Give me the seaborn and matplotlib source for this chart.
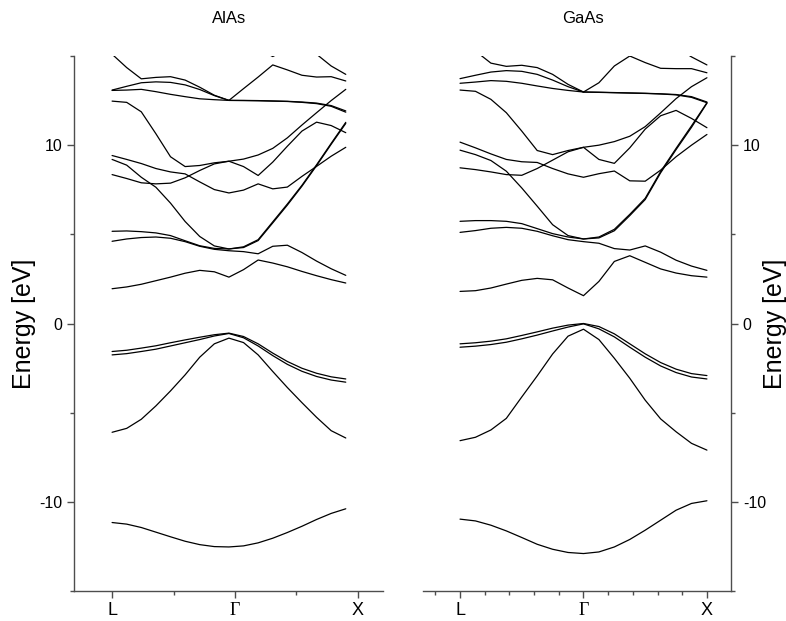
import numpy as np
import pandas as pd
import matplotlib
matplotlib.use("Agg")
import matplotlib.pyplot as plt
from matplotlib.ticker import MultipleLocator
import seaborn as sns

# sample points along the path L -> Gamma -> X (L=0, Gamma=1, X=2)
k_path = [0.0, 0.125, 0.25, 0.375, 0.5, 0.625, 0.75, 0.875, 1.0,
          1.125, 1.25, 1.375, 1.5, 1.625, 1.75, 1.875, 2.0]
# the AlAs run used a slightly shorter path
alas_k_scale = 0.951

# AlAs bands (eV)
alas_s = [-11.16, -11.25, -11.44, -11.70, -11.96, -12.21, -12.40, -12.51, -12.53,
          -12.47, -12.30, -12.04, -11.72, -11.37, -10.99, -10.65, -10.39]
alas_v1 = [-6.10, -5.88, -5.37, -4.62, -3.78, -2.88, -1.89, -1.14, -0.82,
           -1.07, -1.76, -2.69, -3.59, -4.44, -5.26, -6.01, -6.42]
alas_v2 = [-1.76, -1.69, -1.57, -1.44, -1.26, -1.08, -0.90, -0.70, -0.56,
           -0.80, -1.26, -1.80, -2.29, -2.68, -2.97, -3.17, -3.29]
alas_v3 = [-1.57, -1.50, -1.38, -1.25, -1.08, -0.92, -0.77, -0.63, -0.54,
           -0.73, -1.14, -1.66, -2.13, -2.51, -2.79, -2.99, -3.11]
alas_c1 = [1.95, 2.05, 2.20, 2.40, 2.60, 2.82, 2.98, 2.90, 2.60,
           3.02, 3.56, 3.39, 3.18, 2.92, 2.68, 2.46, 2.27]
alas_c2 = [4.61, 4.74, 4.82, 4.85, 4.78, 4.59, 4.33, 4.16, 4.08,
           4.03, 3.91, 4.33, 4.39, 3.98, 3.50, 3.07, 2.70]
alas_c3 = [5.17, 5.19, 5.15, 5.08, 4.93, 4.64, 4.36, 4.21, 4.18,
           4.26, 4.65, 5.64, 6.64, 7.70, 8.85, 10.05, 11.22]
alas_c4 = [9.20, 8.88, 8.20, 7.64, 6.75, 5.72, 4.88, 4.35, 4.18,
           4.30, 4.70, 5.70, 6.70, 7.75, 8.90, 10.10, 11.28]
alas_c5 = [9.42, 9.20, 8.97, 8.69, 8.50, 8.39, 7.94, 7.51, 7.32,
           7.48, 7.83, 7.55, 7.65, 8.25, 8.81, 9.38, 9.88]
alas_c6 = [8.35, 8.13, 7.89, 7.83, 7.87, 8.17, 8.58, 8.95, 9.10,
           9.22, 9.45, 9.82, 10.41, 11.13, 11.82, 12.50, 13.13]
alas_c7 = [12.47, 12.40, 11.87, 10.64, 9.35, 8.80, 8.86, 9.01, 9.10,
           8.80, 8.30, 9.05, 9.94, 10.79, 11.29, 11.10, 10.70]
alas_c8 = [13.07, 13.09, 13.13, 13.00, 12.85, 12.72, 12.60, 12.55, 12.51,
           12.50, 12.49, 12.47, 12.45, 12.40, 12.33, 12.18, 11.85]
alas_c9 = [13.09, 13.30, 13.50, 13.55, 13.52, 13.38, 13.12, 12.78, 12.51,
           12.51, 12.50, 12.48, 12.46, 12.42, 12.36, 12.22, 11.92]
alas_c10 = [15.10, 14.35, 13.72, 13.80, 13.84, 13.65, 13.25, 12.80, 12.51,
            13.17, 13.82, 14.50, 14.22, 13.92, 13.82, 13.84, 13.60]
alas_c11 = [16.0, 16.0, 16.0, 16.0, 16.0, 16.0, 16.0, 16.0, 16.0,
            16.0, 16.0, 16.0, 16.0, 15.80, 15.10, 14.44, 13.97]
alas_c12 = [16.0, 16.0, 16.0, 16.0, 16.0, 16.0, 16.0, 16.0, 16.0,
            16.0, 15.40, 14.97, 15.40, 16.0, 16.0, 16.0, 16.0]

# GaAs bands (eV)
gaas_s = [-10.97, -11.07, -11.31, -11.63, -12.00, -12.38, -12.66, -12.84, -12.90,
          -12.81, -12.53, -12.11, -11.59, -11.03, -10.47, -10.09, -9.94]
gaas_v1 = [-6.57, -6.38, -5.97, -5.32, -4.12, -2.94, -1.71, -0.71, -0.32,
           -0.90, -1.95, -3.07, -4.30, -5.35, -6.07, -6.72, -7.10]
gaas_v2 = [-1.33, -1.27, -1.18, -1.05, -0.86, -0.65, -0.42, -0.20, -0.02,
           -0.30, -0.75, -1.33, -1.89, -2.38, -2.75, -3.00, -3.11]
gaas_v3 = [-1.14, -1.08, -0.99, -0.86, -0.67, -0.47, -0.26, -0.09, 0.00,
           -0.17, -0.58, -1.14, -1.70, -2.19, -2.56, -2.81, -2.92]
gaas_c1 = [1.80, 1.84, 1.99, 2.21, 2.42, 2.53, 2.45, 1.99, 1.56,
           2.36, 3.48, 3.80, 3.43, 3.06, 2.83, 2.68, 2.60]
gaas_c2 = [5.11, 5.21, 5.34, 5.39, 5.34, 5.17, 4.92, 4.70, 4.59,
           4.50, 4.20, 4.12, 4.35, 4.00, 3.55, 3.22, 2.98]
gaas_c3 = [5.73, 5.77, 5.77, 5.73, 5.60, 5.32, 5.04, 4.85, 4.74,
           4.80, 5.20, 6.05, 6.95, 8.45, 9.75, 11.00, 12.35]
gaas_c4 = [9.72, 9.47, 9.14, 8.54, 7.60, 6.58, 5.54, 4.93, 4.74,
           4.85, 5.28, 6.12, 7.02, 8.52, 9.82, 11.08, 12.38]
gaas_c5 = [10.17, 9.85, 9.51, 9.20, 9.07, 9.03, 8.69, 8.39, 8.20,
           8.40, 8.55, 8.00, 7.98, 8.60, 9.35, 10.00, 10.60]
gaas_c6 = [8.73, 8.63, 8.50, 8.35, 8.31, 8.69, 9.16, 9.63, 9.88,
           10.00, 10.20, 10.50, 11.04, 11.81, 12.61, 13.28, 13.78]
gaas_c7 = [13.09, 13.02, 12.57, 11.82, 10.79, 9.70, 9.47, 9.70, 9.88,
           9.20, 8.98, 9.85, 10.90, 11.65, 11.95, 11.50, 10.98]
gaas_c8 = [13.47, 13.54, 13.62, 13.58, 13.47, 13.32, 13.18, 13.07, 12.98,
           12.96, 12.94, 12.92, 12.90, 12.87, 12.82, 12.68, 12.38]
gaas_c9 = [13.73, 13.92, 14.10, 14.18, 14.14, 13.97, 13.65, 13.28, 12.98,
           12.97, 12.95, 12.93, 12.91, 12.88, 12.84, 12.72, 12.42]
gaas_c10 = [15.70, 15.28, 14.60, 14.42, 14.48, 14.35, 13.97, 13.41, 12.98,
            13.50, 14.44, 15.00, 14.63, 14.31, 14.29, 14.29, 14.06]
gaas_c11 = [16.0, 16.0, 16.0, 16.0, 16.0, 16.0, 16.0, 16.0, 16.0,
            16.0, 16.0, 16.0, 16.0, 16.0, 15.50, 14.95, 14.50]

alas_bands = [alas_s, alas_v1, alas_v2, alas_v3, alas_c1, alas_c2, alas_c3, alas_c4,
              alas_c5, alas_c6, alas_c7, alas_c8, alas_c9, alas_c10, alas_c11, alas_c12]
gaas_bands = [gaas_s, gaas_v1, gaas_v2, gaas_v3, gaas_c1, gaas_c2, gaas_c3, gaas_c4,
              gaas_c5, gaas_c6, gaas_c7, gaas_c8, gaas_c9, gaas_c10, gaas_c11]


def band_frame(bands, k):
    parts = []
    for i, e in enumerate(bands):
        parts.append(pd.DataFrame({"k": k, "E": e, "band": i}))
    return pd.concat(parts, ignore_index=True)


sns.set_style("ticks")
plt.rcParams["font.family"] = ["Liberation Sans", "DejaVu Sans"]
plt.rcParams["axes.unicode_minus"] = False
plt.rcParams["text.color"] = "black"

W, H = 786, 621
fig = plt.figure(figsize=(W / 100, H / 100), dpi=100)
ax1 = fig.add_axes([74 / W, 1 - 591 / H, 309 / W, 535 / H])
ax2 = fig.add_axes([423 / W, 1 - 591 / H, 308 / W, 535 / H])

k_alas = [k * alas_k_scale for k in k_path]
panels = [
    (ax1, band_frame(alas_bands, k_alas), "AlAs", 1 * alas_k_scale, (-0.31, 2.205), 0.5),
    (ax2, band_frame(gaas_bands, k_path), "GaAs", 1.0, (-0.30, 2.195), 0.2),
]

axis_col = "#4d4d4d"
for ax, df, name, gx, xlim, minor in panels:
    sns.lineplot(data=df, x="k", y="E", units="band", estimator=None, sort=False,
                 color="black", linewidth=0.9, ax=ax)
    ax.set_xlim(*xlim)
    ax.set_ylim(-15, 15)
    ax.set_xticks([0, 1, 2])
    ax.set_xticklabels(["L", "\u0393", "X"], fontsize=13)
    ax.get_xticklabels()[1].set_fontfamily("Liberation Serif")
    ax.xaxis.set_minor_locator(MultipleLocator(minor))
    ax.yaxis.set_major_locator(MultipleLocator(10))
    ax.yaxis.set_minor_locator(MultipleLocator(5))
    ax.tick_params(which="major", direction="out", length=5, width=1, color=axis_col,
                   labelcolor="black", labelsize=11.5, pad=3.5)
    ax.tick_params(which="minor", direction="out", length=3, width=1, color=axis_col)
    ax.tick_params(axis="x", labelsize=13, pad=3)
    ax.set_xlabel("")
    ax.set_ylabel("Energy [eV]", fontsize=18, color="black")
    for sp in ax.spines.values():
        sp.set_color(axis_col)
        sp.set_linewidth(1.0)
    ax.text(gx, 1.071, name, transform=ax.get_xaxis_transform(),
            ha="center", va="center", fontsize=12, color="black")

sns.despine(ax=ax1)
sns.despine(ax=ax2, left=True, right=False)
ax2.yaxis.tick_right()
ax2.yaxis.set_label_position("right")
ax1.yaxis.set_label_coords(-0.123, 0.5)
ax2.yaxis.set_label_coords(1.104, 0.5)

fig.savefig("out.png", dpi=100)
